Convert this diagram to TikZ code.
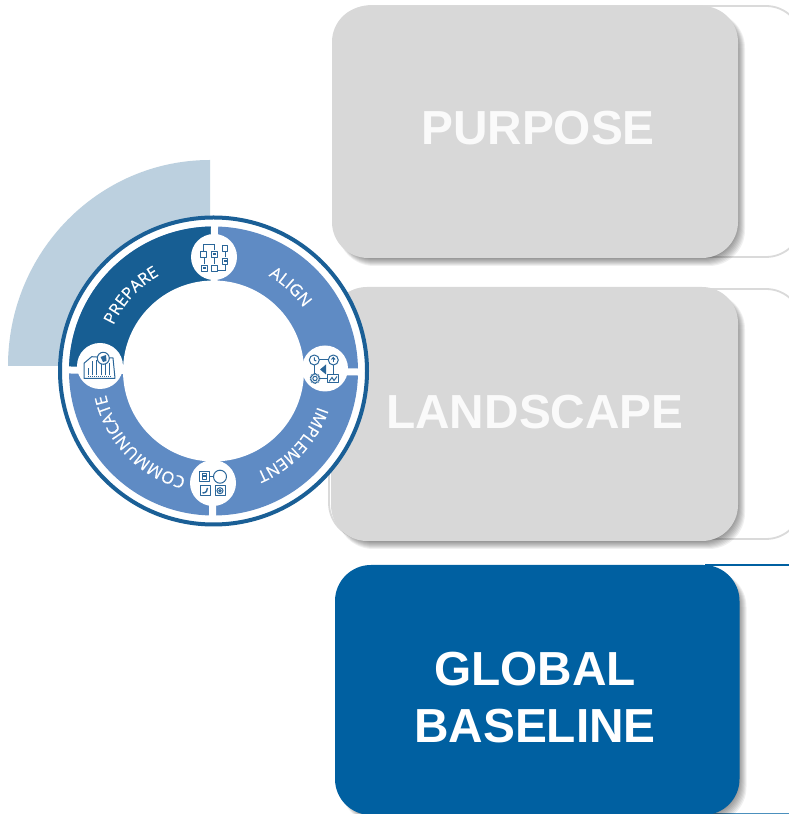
\documentclass[tikz,border=0pt]{standalone}
\usepackage{fontspec}
\setmainfont{Liberation Sans}
\newfontfamily\ringfont[FakeBold=0.5]{Open Sans}
\usetikzlibrary{decorations.text}
\definecolor{quad}{HTML}{BCD0DF}
\definecolor{ringblue}{HTML}{1A5F96}
\definecolor{segdark}{HTML}{175E93}
\definecolor{seglight}{HTML}{5F8BC4}
\definecolor{boxgrey}{HTML}{D8D8D8}
\definecolor{outgrey}{HTML}{DADADA}
\definecolor{boxblue}{HTML}{0060A1}
\definecolor{icon}{HTML}{2A6699}
\definecolor{boxtext}{HTML}{FAFAFA}
\tikzset{
  rbox/.style={rounded corners=36pt},
  outl/.style={rbox,draw=outgrey,line width=1.8pt,fill=white},
  bigtext/.style={font=\fontsize{47.8}{47.8}\selectfont\bfseries,inner sep=0pt},
  ic/.style={draw=icon,line width=1pt,fill=white,line join=round},
  icl/.style={draw=icon,line width=1pt},
  icf/.style={fill=icon},
  disc/.style={circle,fill=white,minimum size=46pt,inner sep=0pt,draw=none},
  ringlabel/.style={decorate,decoration={text along path,text align=center,
      text color=white,text={|\ringfont\fontsize{16.5}{16.5}\selectfont|#1}}},
}
\newcommand{\softshadow}[4]{%
  \foreach \e in {7,6,5,4,3,2,1,0}{
    \fill[black,opacity=0.06,rbox] (#1+6,#2-1-\e) rectangle (#3+\e,#4-6);
  }}
\begin{document}
\begin{tikzpicture}[x=1pt,y=1pt]
\useasboundingbox (0,0) rectangle (789,814);
\clip (0,0) rectangle (789,814);
\fill[white] (0,0) rectangle (789,814);
% ---------- right-hand boxes
\draw[outl] (335,557) rectangle (802,808);
\softshadow{332}{556}{738}{808}
\fill[boxgrey,rbox] (332,556) rectangle (738,808);
\node[bigtext,text=boxtext] (purpose) at (538,686) {PURPOSE};
\draw[outl] (329,275) rectangle (802,525);
\softshadow{331}{273}{738}{527}
\fill[boxgrey,rbox] (331,273) rectangle (738,527);
\node[bigtext,text=boxtext] (landscape) at (535,402) {LANDSCAPE};
\draw[boxblue,line width=1.8pt] (705,249) -- (800,249);
\draw[boxblue!70!white,line width=0.8pt] (705,0.6) -- (800,0.6);
\softshadow{335}{-1}{739.5}{249}
\fill[boxblue,rbox] (335,-1) rectangle (739.5,249);
\node[bigtext,text=white] (global) at (535,145) {GLOBAL};
\node[bigtext,text=white] (baseline) at (535,88) {BASELINE};
% ---------- quadrant behind the ring
\fill[quad] (8,448) arc[start angle=180,end angle=90,x radius=202,y radius=206] -- (210,448) -- cycle;
% ---------- ring
\coordinate (c) at (213.5,443);
\draw[ringblue,line width=4pt,fill=white] (c) circle[radius=153.5];
\fill[seglight] (c) circle[radius=144.5];
\begin{scope}[shift={(c)},rotate=-0.4]
  \fill[segdark] (0,0) -- (0,144.5) arc[start angle=90,end angle=180,radius=144.5] -- cycle;
  \draw[white,line width=7pt] (0,-149) -- (0,149);
  \draw[white,line width=7pt] (-149,0) -- (149,0);
\end{scope}
\fill[white] (c) circle[radius=90.5];
% ---------- curved labels
\begin{scope}[shift={(c)}]
  \path[ringlabel=PREPARE]     (178:110) arc[start angle=178,end angle=97,radius=110];
  \path[ringlabel=ALIGN]       (88:110)  arc[start angle=88,end angle=7,radius=110];
  \path[ringlabel=IMPLEMENT]   (-3:110)  arc[start angle=-3,end angle=-83,radius=110];
  \path[ringlabel=COMMUNICATE] (-92:110) arc[start angle=-92,end angle=-180,radius=110];
\end{scope}
% ---------- icon discs
\node[disc] (itop)    at (214,557) {};
\node[disc] (iright)  at (325,445.5) {};
\node[disc] (ibottom) at (213,331) {};
\node[disc] (ileft)   at (100,448) {};
% top icon: flow of squares
\begin{scope}[shift={(itop)},y=-1pt]
  \foreach \p in {(-10.7,-2.7),(0.3,-2.7),(11,-8.7),(11,4.3),(-9.7,11.3),(0.3,11.3)}{
    \draw[ic,shift={\p}] (-2.8,-2.8) rectangle (2.8,2.8);
  }
  \draw[icl] (-10.7,-6) -- (-10.7,-12) -- (0.3,-12) -- (0.3,-7);
  \draw[icl] (-10,7.5) -- (-10,1);
  \draw[icl] (0.3,1) -- (0.3,7.5);
  \draw[icl] (11,0.5) -- (11,-5);
  \draw[icl] (4,13.5) -- (11,13.5) -- (11,8);
  \fill[icf] (-1.5,-1.5) rectangle (2,-4);
  \fill[icf] (-11.5,10.5) rectangle (-8.5,12.5);
  \fill[icf] (10,3) rectangle (12.5,5.5);
\end{scope}
% right icon: hub with megaphone
\begin{scope}[shift={(iright)},y=-1pt]
  \draw[icl] (-10.7,-8.5) rectangle (8.3,10);
  \draw[ic] (-10.7,-8.5) circle[radius=5];
  \draw[icl] (-10.7,-11) -- (-10.7,-8.5) -- (-8.7,-7.5);
  \draw[ic] (8.3,-8.5) circle[radius=5];
  \draw[icl] (8.3,-6) -- (8.3,-11);
  \draw[icl] (6.5,-9) -- (8.3,-11) -- (10.1,-9);
  \draw[ic,dash pattern=on 1pt off 0.6pt,line width=1.6pt] (-10,10) circle[radius=4.6];
  \draw[ic] (-10,10) circle[radius=2.2];
  \draw[ic] (2.8,6.5) rectangle (13.8,14.5);
  \draw[icl] (4,13) -- (7,9) -- (9,12) -- (12,8);
  \fill[icf] (-5,1) -- (1,-4) -- (1,6) -- cycle;
\end{scope}
% bottom icon: four panels
\begin{scope}[shift={(ibottom)},y=-1pt]
  \draw[icl] (-4,-6) -- (4,-6);
  \draw[ic] (-13.7,-11.3) rectangle (-3.7,-1.3);
  \draw[ic] (-11,-9) rectangle (-6.5,-3.5);
  \fill[icf] (-10,-8) rectangle (-7.5,-5.5);
  \draw[ic] (-13,2.7) rectangle (-3,12.7);
  \draw[icl,line width=1.4pt] (-10.5,10) .. controls (-7,10) and (-5.5,8) .. (-5.5,5);
  \draw[ic] (2,2.7) rectangle (12,12.7);
  \draw[icl] (7,7.7) circle[radius=3];
  \draw[icl] (7,7.7) circle[radius=1.2];
  \draw[ic] (7,-6.3) circle[radius=6.5];
\end{scope}
% left icon: report with chart
\begin{scope}[shift={(ileft)},y=-1pt]
  \draw[ic] (-16,12.3) -- (-16,-2.7) -- (-8.3,-9.3) -- (13,-8) -- (15,12.3) -- cycle;
  \foreach \x/\t in {-11.7/2,-7.5/-5,-3.3/-6,1/-3,5.3/-3,9.7/-3}{
    \draw[icl] (\x,9.5) -- (\x,\t);
  }
  \draw[icl,dash pattern=on 1pt off 1pt] (-12,11) -- (12,11);
  \draw[ic] (3.3,-7.7) circle[radius=6];
  \fill[icf] (0.5,-9) -- (6,-11) -- (6.5,-5) -- (3,-4) -- cycle;
\end{scope}
\end{tikzpicture}
\end{document}
